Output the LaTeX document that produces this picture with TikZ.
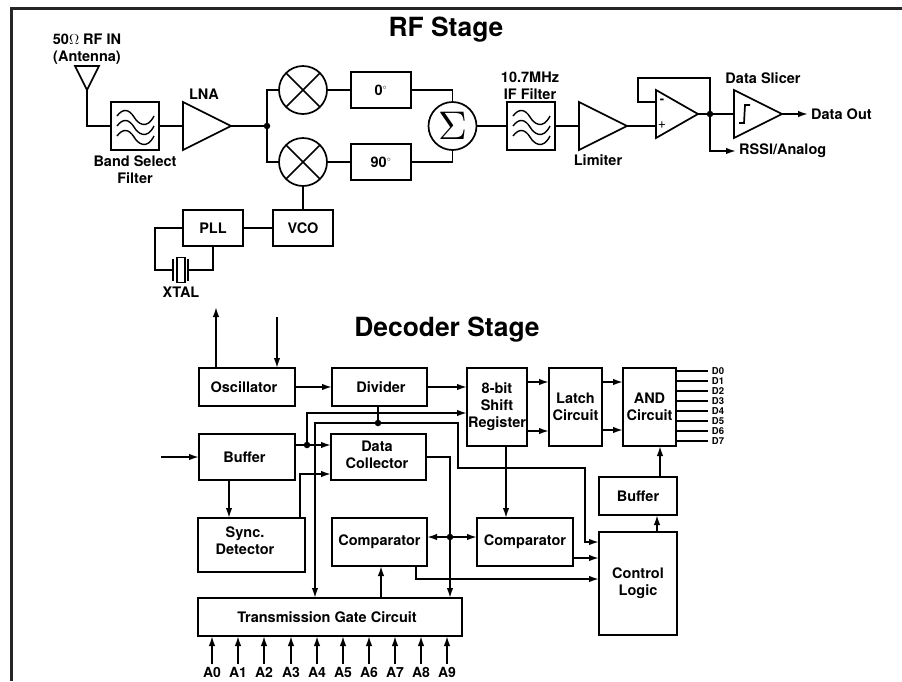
\documentclass[tikz,border=0pt]{standalone}
\usepackage{fontspec}
\setmainfont{TeX Gyre Heros}
\usepackage{graphicx}
\usetikzlibrary{arrows.meta,positioning}
\tikzset{
  wire/.style={line width=1.7pt},
  sig/.style={wire, -{Latex[length=10pt,width=6.5pt]}},
  blockbox/.style={draw, line width=1.7pt, inner sep=0pt, outer sep=0pt, align=center, font=\fontsize{14.5}{17}\selectfont\bfseries},
  txt/.style={inner sep=0pt, align=center, font=\fontsize{14.5}{17}\selectfont\bfseries},
  dot/.style={circle, fill, inner sep=0pt, minimum size=6.5pt},
  mixer/.style={circle, draw, line width=1.7pt, inner sep=0pt, outer sep=0pt, minimum size=48pt},
  filtersym/.pic={
    \foreach \y in {0,10,20}
      \draw[line width=1.4pt, yshift=-\y pt] (-18,-10) .. controls (-12,-18) and (-6,-17) .. (-1,-9) .. controls (3,-2) and (12,4) .. (19,-10);
  }
}
\begin{document}
\begin{tikzpicture}[x=1pt,y=-1pt]
\useasboundingbox (0,0) rectangle (902,681);
% Frame
\draw[line width=3pt, black!85] (11,681) -- (11,8) -- (902,8);

% Titles
\node[font=\fontsize{26.4}{30}\selectfont\bfseries] (rftitle) at (446,30) {RF Stage};
\node[font=\fontsize{26.4}{30}\selectfont\bfseries] (dectitle) at (447,330) {Decoder Stage};

% Antenna and input filter
\node[txt] (antlabel) at (87,49) {50$\Omega$ RF IN\\(Antenna)};
\draw[wire] (75,66) -- (99,66) -- (87,90) -- cycle;
\coordinate (ant) at (87,90);
\node[blockbox, minimum width=48pt, minimum height=48pt] (bsf) at (135,126) {};
\pic at (bsf) {filtersym};
\node[txt] (bsflabel) at (135,169.5) {Band Select\\Filter};
\draw[wire] (ant) |- (bsf.west);

% LNA
\draw[wire] (183,102) -- (231,126) -- (183,150) -- cycle;
\coordinate (lnain) at (183,126);
\coordinate (lnaout) at (231,126);
\node[txt] (lnalabel) at (204,94) {LNA};
\draw[wire] (bsf.east) -- (lnain);

% Mixers and phase boxes
\node[dot] (jmix) at (267,126) {};
\node[mixer] (mixa) at (303,90) {};
\node[mixer] (mixb) at (303,162) {};
\foreach \m in {mixa,mixb} {
    \draw[wire] (\m.45) -- (\m.225);
    \draw[wire] (\m.135) -- (\m.315);
}
\node[blockbox, minimum width=60pt, minimum height=36pt] (pa) at (381,90) {0$^{\scriptscriptstyle\circ}$};
\node[blockbox, minimum width=60pt, minimum height=36pt] (pb) at (381,162) {90$^{\scriptscriptstyle\circ}$};
\node[mixer] (sum) at (452.5,126) {\scalebox{4}{$\Sigma$}};
\draw[wire] (lnaout) -- (jmix.center);
\draw[wire] (jmix.center) |- (mixa.west);
\draw[wire] (jmix.center) |- (mixb.west);
\draw[wire] (mixa.east) -- (pa.west);
\draw[wire] (mixb.east) -- (pb.west);
\draw[wire] (pa.east) -| (sum.north);
\draw[wire] (pb.east) -| (sum.south);

% VCO, PLL, crystal
\node[blockbox, minimum width=60pt, minimum height=36pt] (vco) at (303,228) {VCO};
\node[blockbox, minimum width=60pt, minimum height=36pt] (pll) at (213,228) {PLL};
\node[draw, line width=1.2pt, inner sep=0pt, minimum width=8pt, minimum height=25pt] (xtal) at (181,270) {};
\coordinate (xa) at (173,270);
\coordinate (xb) at (188,270);
\draw[wire] (173,259) -- (173,281);
\draw[wire] (188,259) -- (188,281);
\node[txt] (xtallabel) at (181,292) {XTAL};
\draw[wire] (mixb.south) -- (vco.north);
\draw[wire] (pll.east) -- (vco.west);
\draw[wire] (pll.west) -- (155,228) |- (xa);
\draw[wire] (xb) -| (pll.south);

% IF filter, limiter
\node[blockbox, minimum width=48pt, minimum height=48pt] (iff) at (531,126) {};
\pic at (iff) {filtersym};
\node[txt] (ifflabel) at (530,85.5) {10.7MHz\\IF Filter};
\draw[wire] (sum.east) -- (iff.west);
\draw[wire] (579,102) -- (627,126) -- (579,150) -- cycle;
\coordinate (limin) at (579,126);
\coordinate (limout) at (627,126);
\node[txt] (limlabel) at (598,160) {Limiter};
\draw[wire] (iff.east) -- (limin);

% Op amp and slicer
\draw[wire] (656,90) -- (698,114) -- (656,138) -- cycle;
\coordinate (opout) at (698,114);
\node[font=\fontsize{13}{13}\selectfont\bfseries, inner sep=0pt] (opminus) at (662,101) {-};
\node[font=\fontsize{14}{14}\selectfont, inner sep=0pt] (opplus) at (662,125) {+};
\node[dot] (jop) at (710,114) {};
\draw[wire] (limout) -- (656,126);
\draw[wire] (656,102) -- (638,102) -- (638,78) -| (jop.center);
\draw[wire] (opout) -- (jop.center);
\draw[wire] (734,90) -- (782,114) -- (734,138) -- cycle;
\draw[wire] (739,123) -- (744,123) -- (745,105) -- (750,105);
\coordinate (slin) at (734,114);
\coordinate (slout) at (782,114);
\node[txt] (sllabel) at (763,78) {Data Slicer};
\node[txt, anchor=west, inner xsep=3pt] (dataout) at (808,114) {Data Out};
\node[txt, anchor=west, inner xsep=3pt] (rssi) at (736,151) {RSSI/Analog};
\draw[wire] (jop.center) -- (slin);
\draw[sig] (slout) -- (dataout.west);
\draw[sig] (jop.center) |- (rssi.west);

% Decoder blocks
\node[blockbox, minimum width=96pt, minimum height=38pt] (osc) at (247,387) {Oscillator\hspace*{6pt}};
\node[blockbox, minimum width=95pt, minimum height=38pt] (div) at (379.5,387) {\hspace*{3pt}Divider};
\node[blockbox, minimum width=60pt, minimum height=78pt] (shift) at (497,407) {8-bit\\Shift\\Register};
\node[blockbox, minimum width=53pt, minimum height=78pt] (latch) at (575.5,407) {Latch\\Circuit};
\node[blockbox, minimum width=53pt, minimum height=78pt] (and) at (649.5,407) {AND\\Circuit};
\node[blockbox, minimum width=96pt, minimum height=46pt] (bufa) at (247,457) {Buffer\hspace*{5pt}};
\node[blockbox, minimum width=95pt, minimum height=46pt] (dc) at (378.5,457) {};
\node[txt] (dclabel) at (377,454.5) {Data\\Collector};
\node[blockbox, minimum width=107pt, minimum height=54pt] (sync) at (251.5,545) {};
\node[txt] (synclabel) at (245,540.5) {Sync.\\Detector};
\node[blockbox, minimum width=95pt, minimum height=48pt] (cmpa) at (379.5,542) {Comparator};
\node[blockbox, minimum width=96pt, minimum height=48pt] (cmpb) at (525,542) {Comparator};
\node[blockbox, minimum width=78pt, minimum height=38pt] (bufb) at (638,496) {Buffer};
\node[blockbox, minimum width=78pt, minimum height=103pt] (ctrl) at (638,583.5) {Control\\Logic};
\node[blockbox, minimum width=264pt, minimum height=38pt] (tgc) at (330,617) {Transmission Gate Circuit\hspace*{6pt}};

% Free ends
\coordinate (oscup) at (216,307);
\coordinate (oscdown) at (277,317);
\coordinate (bufin) at (161,457);
\draw[sig] (osc.north -| oscup) -- (oscup);
\draw[sig] (oscdown) -- (osc.north -| oscdown);
\draw[sig] (bufin) -- (bufa.west);

% Decoder connectors
\draw[sig] (osc.east) -- (div.west);
\draw[sig] (div.east) -- (shift.west |- div.east);
\draw[sig] (shift.east |- 0,382) -- (latch.west |- 0,382);
\draw[sig] (shift.east |- 0,431) -- (latch.west |- 0,431);
\draw[sig] (latch.east |- 0,382) -- (and.west |- 0,382);
\draw[sig] (latch.east |- 0,430) -- (and.west |- 0,430);
\draw[sig] (bufb.north -| 660,0) -- (and.south -| 660,0);
\draw[sig] (ctrl.north -| 657,0) -- (bufb.south -| 657,0);

\node[dot] (jdiv) at (378,423) {};
\draw[wire] (div.south -| jdiv) -- (jdiv.center);
\draw[sig] (jdiv.center) -| (tgc.north -| 315,0);
\draw[sig] (jdiv.center) -- (458,423) -- (458,468) -- (585,468) |- (ctrl.west |- 0,542);

\node[dot] (jbuf) at (307,445) {};
\draw[sig] (bufa.east |- jbuf) -- (dc.west |- jbuf);
\draw[sig] (jbuf.center) |- (shift.west |- 0,413);
\draw[sig] (bufa.south -| 229,0) -- (sync.north -| 229,0);
\draw[sig] (sync.north -| 300,0) |- (dc.west |- 0,474);

\node[dot] (jcmp) at (450,537) {};
\draw[sig] (dc.east) -| (tgc.north -| jcmp);
\draw[sig] (jcmp.center) -- (cmpa.east |- jcmp);
\draw[sig] (jcmp.center) -- (cmpb.west |- jcmp);
\draw[sig] (tgc.north -| 381,0) -- (cmpa.south -| 381,0);
\draw[sig] (cmpa.south -| 416,0) |- (ctrl.west |- 0,579);
\draw[sig] (cmpb.east |- 0,558) -- (ctrl.west |- 0,558);
\draw[sig] (shift.south -| 506,0) -- (cmpb.north -| 506,0);

% Address inputs
\foreach \x [count=\i from 0, evaluate=\i as \n using int(\i)] in {212,238,264,291,317,343,369,395,421,447} {
    \node[font=\fontsize{14}{14}\selectfont\bfseries, inner sep=2.5pt] (a\n) at (\x,672) {A\n};
    \draw[sig] (a\n.north) -- (tgc.south -| a\n);
}

% Data outputs
\foreach \i [evaluate=\i as \y using int(371+10*\i)] in {0,...,7} {
    \node[font=\fontsize{9.5}{10}\selectfont\bfseries, inner ysep=0pt, inner xsep=4pt] (d\i) at (718,\y) {D\i};
    \draw[wire] (and.east |- d\i) -- (d\i.west);
}
\end{tikzpicture}
\end{document}
